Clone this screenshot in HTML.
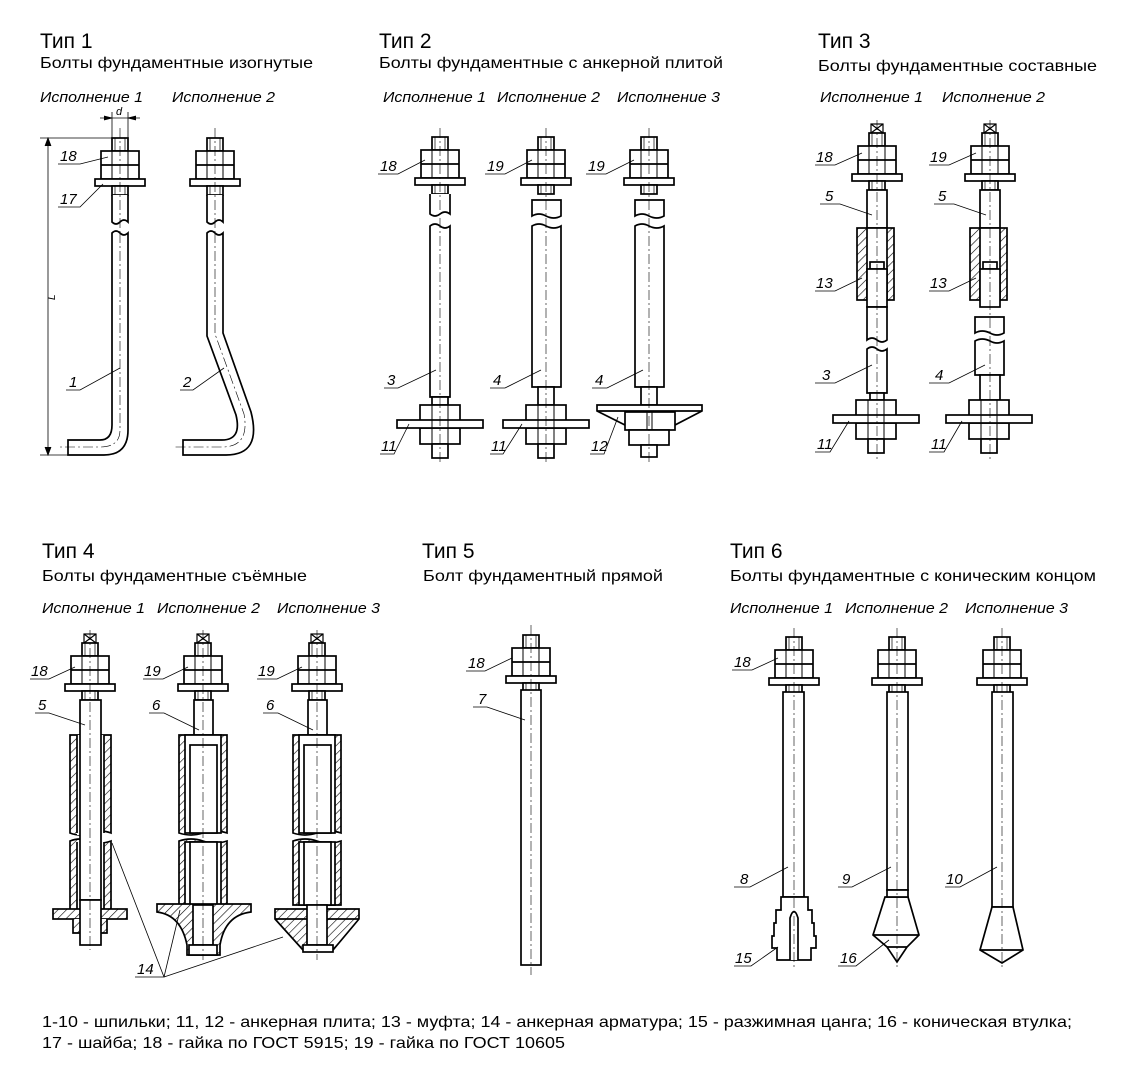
<!DOCTYPE html>
<html><head><meta charset="utf-8"><style>
html,body{margin:0;padding:0;background:#fff}
svg{display:block}
text{font-family:"Liberation Sans",sans-serif;fill:#000}
.h{font-size:21px}
.s{font-size:16px}
.i{font-size:15px;font-style:italic}
</style></head><body>
<svg width="1136" height="1077" viewBox="0 0 1136 1077" xmlns="http://www.w3.org/2000/svg">
<defs>
<pattern id="hat" patternUnits="userSpaceOnUse" width="6" height="6" patternTransform="rotate(45)">
<rect width="6" height="6" fill="#fff"/><line x1="0" y1="0" x2="0" y2="6" stroke="#000" stroke-width="1.2"/>
</pattern>
<g id="top" stroke="#000" stroke-width="1.7" fill="#fff">
<rect x="-8" y="0" width="16" height="13"/>
<rect x="-19" y="13" width="38" height="28"/>
<line x1="-19" y1="27" x2="19" y2="27"/>
<line x1="-8" y1="13" x2="-8" y2="41" stroke-width="1"/>
<line x1="8" y1="13" x2="8" y2="41" stroke-width="1"/>
<rect x="-25" y="41" width="50" height="7"/>
<rect x="-8" y="48" width="16" height="9"/>
<line x1="-5" y1="0" x2="-5" y2="13" stroke-width="0.7"/><line x1="5" y1="0" x2="5" y2="13" stroke-width="0.7"/>
<line x1="-5" y1="48" x2="-5" y2="57" stroke-width="0.7"/><line x1="5" y1="48" x2="5" y2="57" stroke-width="0.7"/>
</g>
<g id="cross" stroke="#000" stroke-width="1.2" fill="#fff">
<rect x="-6" y="-9" width="12" height="9"/><line x1="-6" y1="-9" x2="6" y2="0"/><line x1="6" y1="-9" x2="-6" y2="0"/>
</g>
<g id="bot" stroke="#000" stroke-width="1.7" fill="#fff">
<rect x="-20" y="0" width="40" height="16"/>
<rect x="-20" y="23" width="40" height="16"/>
<rect x="-43" y="15" width="86" height="8"/>
<rect x="-8" y="39" width="16" height="14"/>
<line x1="-8" y1="0" x2="-8" y2="39" stroke-width="1"/><line x1="8" y1="0" x2="8" y2="39" stroke-width="1"/>
</g>
</defs>

<g lengthAdjust="spacingAndGlyphs">
<text class="h" x="40" y="48">Тип 1</text>
<text class="s" x="40" y="68" textLength="273" lengthAdjust="spacingAndGlyphs">Болты фундаментные изогнутые</text>
<text class="i" x="40" y="102" textLength="103" lengthAdjust="spacingAndGlyphs">Исполнение 1</text>
<text class="i" x="172" y="102" textLength="103" lengthAdjust="spacingAndGlyphs">Исполнение 2</text>

<text class="h" x="379" y="48">Тип 2</text>
<text class="s" x="379" y="68" textLength="344" lengthAdjust="spacingAndGlyphs">Болты фундаментные с анкерной плитой</text>
<text class="i" x="383" y="102" textLength="103" lengthAdjust="spacingAndGlyphs">Исполнение 1</text>
<text class="i" x="497" y="102" textLength="103" lengthAdjust="spacingAndGlyphs">Исполнение 2</text>
<text class="i" x="617" y="102" textLength="103" lengthAdjust="spacingAndGlyphs">Исполнение 3</text>

<text class="h" x="818" y="48">Тип 3</text>
<text class="s" x="818" y="71" textLength="279" lengthAdjust="spacingAndGlyphs">Болты фундаментные составные</text>
<text class="i" x="820" y="102" textLength="103" lengthAdjust="spacingAndGlyphs">Исполнение 1</text>
<text class="i" x="942" y="102" textLength="103" lengthAdjust="spacingAndGlyphs">Исполнение 2</text>

<text class="h" x="42" y="558">Тип 4</text>
<text class="s" x="42" y="581" textLength="265" lengthAdjust="spacingAndGlyphs">Болты фундаментные съёмные</text>
<text class="i" x="42" y="613" textLength="103" lengthAdjust="spacingAndGlyphs">Исполнение 1</text>
<text class="i" x="157" y="613" textLength="103" lengthAdjust="spacingAndGlyphs">Исполнение 2</text>
<text class="i" x="277" y="613" textLength="103" lengthAdjust="spacingAndGlyphs">Исполнение 3</text>

<text class="h" x="422" y="558">Тип 5</text>
<text class="s" x="423" y="581" textLength="240" lengthAdjust="spacingAndGlyphs">Болт фундаментный прямой</text>

<text class="h" x="730" y="558">Тип 6</text>
<text class="s" x="730" y="581" textLength="366" lengthAdjust="spacingAndGlyphs">Болты фундаментные с коническим концом</text>
<text class="i" x="730" y="613" textLength="103" lengthAdjust="spacingAndGlyphs">Исполнение 1</text>
<text class="i" x="845" y="613" textLength="103" lengthAdjust="spacingAndGlyphs">Исполнение 2</text>
<text class="i" x="965" y="613" textLength="103" lengthAdjust="spacingAndGlyphs">Исполнение 3</text>

<text class="s" x="42" y="1027" textLength="1030" lengthAdjust="spacingAndGlyphs">1-10 - шпильки; 11, 12 - анкерная плита; 13 - муфта; 14 - анкерная арматура; 15 - разжимная цанга; 16 - коническая втулка;</text>
<text class="s" x="42" y="1048" textLength="523" lengthAdjust="spacingAndGlyphs">17 - шайба; 18 - гайка по ГОСТ 5915; 19 - гайка по ГОСТ 10605</text>
</g>

<g stroke="#000" fill="none" stroke-width="1.7">
<use href="#top" x="120" y="138"/>
<path d="M112,195 V222 Q116,226 120,222 Q124,218 128,222 V195" fill="#fff"/>
<path d="M112,233 Q116,229 120,233 Q124,237 128,233 V430 Q128,455 104,455 H68 V440 H100 Q112,440 112,425 Z" fill="#fff"/>
<path d="M120,233 V430 Q120,447 100,447 H60" stroke-width="0.6" stroke-dasharray="10,3,2,3"/>
<g stroke-width="0.8">
<line x1="48" y1="138" x2="48" y2="455"/>
<line x1="40" y1="138" x2="112" y2="138"/>
<line x1="40" y1="455" x2="68" y2="455"/>
<path d="M45,146 L48,138 L51,146 M45,447 L48,455 L51,447" fill="#000"/>
<line x1="112" y1="112" x2="112" y2="138"/><line x1="128" y1="112" x2="128" y2="138"/>
<line x1="100" y1="118" x2="140" y2="118"/>
<path d="M104,116 L112,118 L104,120 M136,116 L128,118 L136,120" fill="#000"/>
</g>
<text x="116" y="115" style="font-size:11px;font-style:italic" stroke="none" fill="#000">d</text>
<text x="55" y="300" style="font-size:10px;font-style:italic" stroke="none" fill="#000" transform="rotate(-90 55 300)">L</text>
<use href="#top" x="215" y="138"/>
<path d="M207,195 V222 Q211,226 215,222 Q219,218 223,222 V195" fill="#fff"/>
<path d="M207,233 Q211,229 215,233 Q219,237 223,233 V333 L251,412 Q262,455 226,455 H183 V440 H222 Q242,440 236,415 L207,336 Z" fill="#fff"/>
<path d="M215,233 V334 L244,414 Q250,447 222,447 H175" stroke-width="0.6" stroke-dasharray="10,3,2,3"/>

<use href="#top" x="440" y="137"/>
<path d="M430,194 V214 Q435,218 440,214 Q445,210 450,214 V194" fill="#fff"/>
<path d="M430,226 Q435,222 440,226 Q445,230 450,226 V397 H430 Z" fill="#fff"/>
<rect x="432" y="397" width="16" height="8" fill="#fff"/>
<use href="#bot" x="440" y="405"/>

<use href="#top" x="546" y="137"/>
<path d="M532,200 H561 V216 Q554,220 546,216 Q539,212 532,216 Z" fill="#fff"/>
<path d="M532,226 Q539,222 546,226 Q554,230 561,226 V387 H532 Z" fill="#fff"/>
<rect x="538" y="387" width="16" height="18" fill="#fff"/>
<use href="#bot" x="546" y="405"/>

<use href="#top" x="649" y="137"/>
<path d="M635,200 H664 V216 Q657,220 649,216 Q642,212 635,216 Z" fill="#fff"/>
<path d="M635,226 Q642,222 649,226 Q657,230 664,226 V387 H635 Z" fill="#fff"/>
<rect x="641" y="387" width="16" height="18" fill="#fff"/>
<path d="M597,405 H702 V411 L675,425 H625 L597,411 Z" fill="#fff"/>
<line x1="597" y1="411" x2="702" y2="411"/>
<rect x="625" y="412" width="50" height="18" fill="#fff"/>
<line x1="647" y1="412" x2="647" y2="430" stroke-width="1"/><line x1="652" y1="412" x2="652" y2="430" stroke-width="1"/>
<rect x="629" y="430" width="40" height="15" fill="#fff"/>
<rect x="641" y="445" width="16" height="12" fill="#fff"/>

<g id="t3">
<use href="#cross" x="877" y="133"/>
<use href="#top" x="877" y="133"/>
<rect x="867" y="190" width="20" height="72" fill="#fff"/>
<rect x="857" y="228" width="37" height="72" fill="url(#hat)"/>
<rect x="867" y="228" width="20" height="72" fill="#fff"/>
<rect x="870" y="262" width="14" height="7" fill="#fff"/>
<rect x="867" y="269" width="20" height="38" fill="#fff"/>
</g>
<path d="M867,307 H887 V340 Q882,344 877,340 Q872,336 867,340 Z" fill="#fff"/>
<path d="M867,349 Q872,345 877,349 Q882,353 887,349 V393 H867 Z" fill="#fff"/>
<rect x="870" y="393" width="14" height="7" fill="#fff"/>
<use href="#bot" x="876" y="400"/>

<use href="#t3" transform="translate(113,0)"/>
<path d="M975,317 H1004 V333 Q997,337 990,333 Q982,329 975,333 Z" fill="#fff"/>
<path d="M975,341 Q982,337 990,341 Q997,345 1004,341 V375 H975 Z" fill="#fff"/>
<rect x="980" y="375" width="20" height="25" fill="#fff"/>
<use href="#bot" x="989" y="400"/>

<use href="#cross" x="90" y="643"/>
<use href="#top" x="90" y="643"/>
<path d="M70,735 H111 V833 Q100,829 90,833 Q80,837 70,833 Z" fill="url(#hat)"/>
<rect x="77" y="735" width="27" height="100" fill="#fff" stroke="none"/>
<path d="M70,841 Q80,837 90,841 Q100,845 111,841 V910 H70 Z" fill="url(#hat)"/>
<rect x="77" y="841" width="27" height="68" fill="#fff" stroke="none"/>
<line x1="77" y1="735" x2="77" y2="833"/><line x1="104" y1="735" x2="104" y2="833"/>
<line x1="77" y1="842" x2="77" y2="909"/><line x1="104" y1="842" x2="104" y2="909"/>
<rect x="80" y="700" width="21" height="200" fill="#fff"/>
<rect x="53" y="909" width="74" height="10" fill="url(#hat)"/>
<path d="M73,919 V933 H107 V919" fill="url(#hat)"/>
<rect x="80" y="900" width="21" height="45" fill="#fff"/>
<line x1="90" y1="630" x2="90" y2="950" stroke-width="0.6" stroke-dasharray="10,3,2,3"/>

<g id="t4">
<use href="#cross" x="203" y="643"/>
<use href="#top" x="203" y="643"/>
<rect x="194" y="700" width="19" height="45" fill="#fff"/>
<path d="M179,735 H227 V833 Q215,829 203,833 Q191,837 179,833 Z" fill="url(#hat)"/>
<path d="M179,841 Q191,837 203,841 Q215,845 227,841 V905 H179 Z" fill="url(#hat)"/>
<rect x="185" y="735" width="36" height="98" fill="#fff"/>
<rect x="185" y="842" width="36" height="63" fill="#fff"/>
<rect x="190" y="745" width="27" height="88" fill="#fff"/>
<rect x="190" y="842" width="27" height="63" fill="#fff"/>
</g>
<path d="M157,904 H251 V912 Q225,915 220,945 V955 H187 V945 Q181,915 157,912 Z" fill="url(#hat)"/>
<rect x="193" y="905" width="20" height="40" fill="#fff"/>
<rect x="189" y="945" width="28" height="10" fill="#fff"/>

<use href="#t4" transform="translate(114,0)"/>
<path d="M275,909 H359 V919 L333,950 H303 L275,919 Z" fill="url(#hat)"/>
<line x1="275" y1="919" x2="359" y2="919"/>
<rect x="307" y="905" width="20" height="40" fill="#fff"/>
<rect x="303" y="945" width="30" height="7" fill="#fff"/>

<use href="#top" x="531" y="635"/>
<rect x="521" y="690" width="20" height="275" fill="#fff"/>
<line x1="531" y1="625" x2="531" y2="975" stroke-width="0.6" stroke-dasharray="10,3,2,3"/>

<use href="#top" x="794" y="637"/>
<rect x="783" y="692" width="21" height="205" fill="#fff"/>
<path d="M781,897 H808 V910 H812 V923 H814 V936 H816 V948 H811 V960 H777 V948 H772 V936 H774 V923 H776 V910 H781 Z" fill="#fff"/>
<path d="M790,960 V918 Q794,905 798,918 V960" fill="#fff"/>

<use href="#top" x="897" y="637"/>
<rect x="887" y="692" width="21" height="198" fill="#fff"/>
<path d="M885,897 H908 L919,935 L907,947 L897,962 L887,947 L873,935 Z" fill="#fff"/>
<line x1="873" y1="935" x2="919" y2="935"/><line x1="887" y1="947" x2="907" y2="947"/>
<rect x="887" y="890" width="21" height="7" fill="#fff"/>

<use href="#top" x="1002" y="637"/>
<rect x="992" y="692" width="21" height="215" fill="#fff"/>
<path d="M992,907 H1013 L1023,950 L1002,963 L980,950 Z" fill="#fff"/>
<line x1="980" y1="950" x2="1023" y2="950"/>

<g stroke-width="0.6" stroke-dasharray="10,3,2,3">
<line x1="440" y1="128" x2="440" y2="462"/><line x1="546" y1="128" x2="546" y2="462"/><line x1="649" y1="128" x2="649" y2="462"/>
<line x1="877" y1="120" x2="877" y2="460"/><line x1="990" y1="120" x2="990" y2="460"/>
<line x1="203" y1="630" x2="203" y2="960"/><line x1="317" y1="630" x2="317" y2="960"/>
<line x1="794" y1="628" x2="794" y2="968"/><line x1="897" y1="628" x2="897" y2="968"/><line x1="1002" y1="628" x2="1002" y2="968"/>
<line x1="120" y1="128" x2="120" y2="232"/><line x1="215" y1="128" x2="215" y2="232"/>
</g>
</g>

<g stroke="#000" stroke-width="0.8" fill="none">
<path d="M58,164 H80 L108,157"/><path d="M58,207 H80 L103,184"/>
<path d="M66,390 H80 L120,368"/><path d="M180,390 H193 L224,368"/>
<path d="M378,174 H398 L425,160"/><path d="M485,174 H505 L532,160"/><path d="M586,174 H606 L634,160"/>
<path d="M384,388 H398 L436,370"/><path d="M490,388 H505 L541,370"/><path d="M592,388 H607 L643,370"/>
<path d="M380,454 H394 L409,424"/><path d="M490,454 H503 L522,424"/><path d="M590,454 H604 L618,417"/>
<path d="M815,165 H835 L862,153"/><path d="M929,165 H949 L976,153"/>
<path d="M820,204 H840 L872,215"/><path d="M934,204 H954 L986,215"/>
<path d="M815,291 H835 L862,278"/><path d="M929,291 H949 L976,278"/>
<path d="M815,383 H835 L872,365"/><path d="M929,383 H949 L985,365"/>
<path d="M815,452 H830 L849,421"/><path d="M929,452 H944 L962,421"/>
<path d="M30,679 H49 L75,667"/><path d="M143,679 H163 L188,667"/><path d="M257,679 H277 L302,667"/>
<path d="M35,713 H49 L85,725"/><path d="M149,713 H164 L199,730"/><path d="M263,713 H278 L313,730"/>
<path d="M135,977 H164 L112,843 M164,977 L180,910 M164,977 L283,937"/>
<path d="M466,671 H485 L512,658"/><path d="M473,707 H487 L525,720"/>
<path d="M732,670 H752 L778,658"/><path d="M734,887 H750 L788,867"/><path d="M838,887 H852 L891,867"/><path d="M945,887 H960 L997,867"/>
<path d="M734,966 H751 L778,947"/><path d="M838,966 H856 L889,940"/>
</g>
<g style="font-size:15px;font-style:italic">
<text x="60" y="161">18</text><text x="60" y="204">17</text><text x="69" y="387">1</text><text x="183" y="387">2</text>
<text x="380" y="171">18</text><text x="487" y="171">19</text><text x="588" y="171">19</text>
<text x="387" y="385">3</text><text x="493" y="385">4</text><text x="595" y="385">4</text>
<text x="381" y="451">11</text><text x="491" y="451">11</text><text x="591" y="451">12</text>
<text x="816" y="162">18</text><text x="930" y="162">19</text>
<text x="825" y="201">5</text><text x="938" y="201">5</text>
<text x="816" y="288">13</text><text x="930" y="288">13</text>
<text x="822" y="380">3</text><text x="935" y="380">4</text>
<text x="817" y="449">11</text><text x="931" y="449">11</text>
<text x="31" y="676">18</text><text x="144" y="676">19</text><text x="258" y="676">19</text>
<text x="38" y="710">5</text><text x="152" y="710">6</text><text x="266" y="710">6</text>
<text x="137" y="974">14</text>
<text x="468" y="668">18</text><text x="478" y="704">7</text>
<text x="734" y="667">18</text><text x="740" y="884">8</text><text x="842" y="884">9</text><text x="946" y="884">10</text>
<text x="735" y="963">15</text><text x="840" y="963">16</text>
</g>
</svg>
</body></html>
